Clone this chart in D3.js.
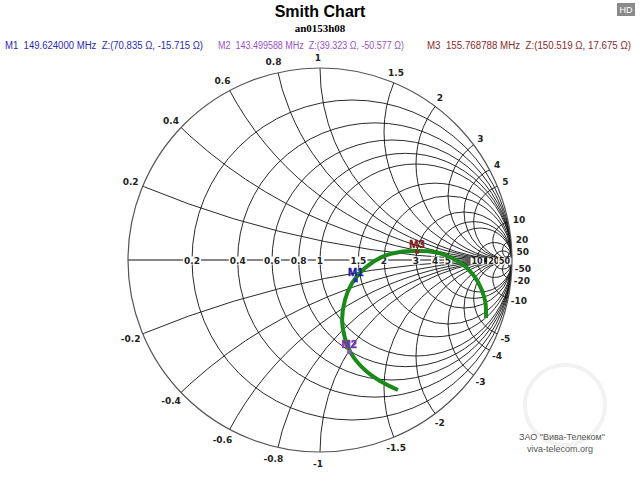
<!DOCTYPE html>
<html><head><meta charset="utf-8">
<script src="https://cdn.jsdelivr.net/npm/d3@7"></script>
<style>body{margin:0;background:#fff}</style>
</head><body>
<svg id="c" width="640" height="480"></svg>
<script>
const resistanceValues=[0.2,0.4,0.6,0.8,1,1.5,2,3,4,5,10,20,50];
const reactanceValues=[0.2,0.4,0.6,0.8,1,1.5,2,3,4,5,10,20,50];
const axisLabels=["0.2","0.4","0.6","0.8","1","1.5","2","3","4","5","10","20","50"];
// trace, reflection coefficient (re, im)
const traceRe=[0.406,0.3125,0.234,0.167,0.130,0.115,0.130,0.167,0.234,0.323,0.417,0.505,0.599,0.6875,0.766,0.823,0.859,0.865];
const traceIm=[-0.677,-0.630,-0.573,-0.495,-0.406,-0.3125,-0.208,-0.120,-0.042,0.016,0.042,0.047,0.042,0.010,-0.042,-0.115,-0.208,-0.302];
const markerNames=["M1","M2","M3"];
const markerR=[70.835,39.323,150.519];
const markerX=[-15.715,-50.577,17.675];
const markerFreq=["149.624000","143.499588","155.768788"];
const markerColors=["#2a2ab8","#9a4fc8","#8a2a2a"];
const markerLabelColors=["#1a1aa0","#7a30b0","#7a1a1a"];
const Z0=50;

const svg=d3.select("#c");
const cx=320,cy=260,R=192;
const sx=d3.scaleLinear().domain([-1,1]).range([cx-R,cx+R]);
const sy=d3.scaleLinear().domain([-1,1]).range([cy+R,cy-R]);
const k=R;

svg.append("text").attr("x",320).attr("y",17).attr("text-anchor","middle")
 .attr("font-family","Liberation Sans, Arial").attr("font-weight","bold").attr("font-size",16).text("Smith Chart");
svg.append("text").attr("x",320).attr("y",32).attr("text-anchor","middle")
 .attr("font-family","Liberation Serif, serif").attr("font-weight","bold").attr("font-size",11).text("an0153h08");
svg.append("rect").attr("x",617).attr("y",3).attr("width",18).attr("height",13).attr("fill","#8a8a8a");
svg.append("text").attr("x",626).attr("y",13).attr("text-anchor","middle").attr("fill","#fff")
 .attr("font-family","Liberation Sans, Arial").attr("font-size",9).text("HD");

const xs=[5,218,427], xe=[203,404,631];
markerNames.forEach((m,i)=>{
  svg.append("text").attr("x",xs[i]).attr("y",49).attr("fill",markerColors[i])
   .attr("font-family","Liberation Sans, Arial").attr("font-size",10).attr("xml:space","preserve")
   .attr("textLength",xe[i]-xs[i]).attr("lengthAdjust","spacingAndGlyphs")
   .text(`${m}  ${markerFreq[i]} MHz  Z:(${markerR[i].toFixed(3)} Ω, ${markerX[i].toFixed(3)} Ω)`);
});

svg.append("defs").append("clipPath").attr("id","uc").append("circle").attr("cx",cx).attr("cy",cy).attr("r",R);
const g=svg.append("g").attr("clip-path","url(#uc)");
resistanceValues.forEach(r=>{
  g.append("circle").attr("cx",sx(r/(1+r))).attr("cy",sy(0)).attr("r",k/(1+r))
   .attr("fill","none").attr("stroke","#111").attr("stroke-width",0.9);
});
reactanceValues.forEach(x=>{
  [x,-x].forEach(v=>{
    g.append("circle").attr("cx",sx(1)).attr("cy",sy(1/v)).attr("r",k/Math.abs(v))
     .attr("fill","none").attr("stroke","#111").attr("stroke-width",0.9);
  });
});
g.append("line").attr("x1",sx(-1)).attr("x2",sx(1)).attr("y1",sy(0)).attr("y2",sy(0)).attr("stroke","#111");
svg.append("circle").attr("cx",cx).attr("cy",cy).attr("r",R).attr("fill","none").attr("stroke","#555").attr("stroke-width",1.2);

const lf="DejaVu Sans, Verdana";
const axisG=svg.append("g");
resistanceValues.forEach((r,i)=>{
  const px=sx((r-1)/(r+1));
  const small=r>=10;
  axisG.append("text").attr("x",px).attr("y",sy(0)+3.5).attr("text-anchor","middle")
   .attr("font-family",lf).attr("font-weight","bold").attr("font-size",small?8:9).attr("fill","#222").text(axisLabels[i]);
});
axisG.selectAll("text").each(function(){
  const b=this.getBBox();
  axisG.insert("rect",()=>this).attr("x",b.x-1).attr("y",b.y+1).attr("width",b.width+2).attr("height",b.height-2).attr("fill","#fff");
});
reactanceValues.forEach((x,i)=>{
  [x,-x].forEach(v=>{
    const re=(v*v-1)/(v*v+1), im=2*v/(v*v+1);
    const a=Math.atan2(im,re);
    const off=Math.abs(v)>=10?13:11;
    svg.append("text").attr("x",sx(re)+off*Math.cos(a)-2).attr("y",sy(im)-off*Math.sin(a)+3.5)
     .attr("text-anchor","middle").attr("font-family",lf).attr("font-weight","bold").attr("font-size",9).attr("fill","#222")
     .text((v<0?"-":"")+axisLabels[i]);
  });
});

const pts=traceRe.map((r,i)=>[r,traceIm[i]]);
svg.append("path").attr("d",d3.line().x(d=>sx(d[0])).y(d=>sy(d[1])).curve(d3.curveCatmullRom)(pts))
 .attr("fill","none").attr("stroke","#1a8a1a").attr("stroke-width",4);

markerNames.forEach((m,i)=>{
  const z={r:markerR[i]/Z0,x:markerX[i]/Z0};
  const dr=(z.r+1)*(z.r+1)+z.x*z.x;
  const gr=((z.r-1)*(z.r+1)+z.x*z.x)/dr, gi=(2*z.x)/dr;
  const px=sx(gr),py=sy(gi);
  svg.append("rect").attr("x",px-2).attr("y",py-2).attr("width",4).attr("height",4).attr("fill",markerColors[i]);
  svg.append("text").attr("x",px).attr("y",py-4).attr("text-anchor","middle").attr("font-family","Liberation Sans, Arial")
   .attr("font-weight","bold").attr("font-size",11).attr("fill",markerLabelColors[i])
   .attr("stroke",markerLabelColors[i]).attr("stroke-width",0.4).text(m);
});

svg.append("circle").attr("cx",565).attr("cy",405).attr("r",40).attr("fill","none").attr("stroke","#f2f2f2").attr("stroke-width",4);
svg.append("text").attr("x",562).attr("y",440).attr("text-anchor","middle").attr("font-family","Liberation Sans, Arial")
 .attr("font-size",9).attr("fill","#555").text("ЗАО \"Вива-Телеком\"");
svg.append("text").attr("x",560).attr("y",452).attr("text-anchor","middle").attr("font-family","Liberation Sans, Arial")
 .attr("font-size",9).attr("fill","#555").text("viva-telecom.org");
</script>
</body></html>
